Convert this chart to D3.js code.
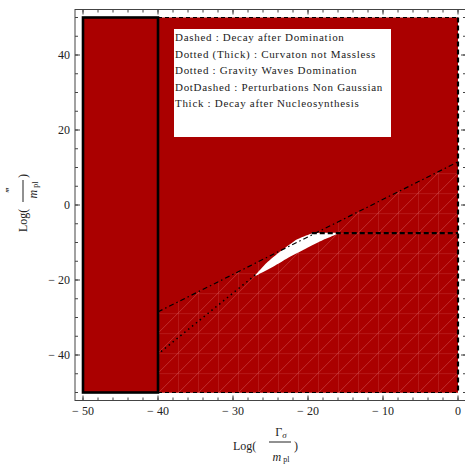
<!DOCTYPE html>
<html>
<head>
<script src="https://cdn.jsdelivr.net/npm/d3@7"></script>
<style>
  body { margin: 0; background: #fff; }
  text { font-family: "Liberation Serif", "DejaVu Serif", serif; fill: #222; }
</style>
</head>
<body>
<svg></svg>
<script>
var w = 465, h = 466;

// data
var xDomain = [-50, 0];
var yDomain = [-50, 50];
var xMajor = [-50, -40, -30, -20, -10, 0];
var xMinor = d3.range(-50, 0.1, 2);
var yMajor = [-40, -20, 0, 20, 40];
var yMinor = d3.range(-50, 50.1, 5);

var nucleoX = [-50, -40];          // Thick : decay after nucleosynthesis
var dominationX = [-40, 0];        // dashed box
var nonGaussLine = [[-40, -28.5], [0, 11.5]];
var gravityLine = [[-39.6, -39.1], [-27.0, -18.6]];
var curvatonLine = [[-19.5, -7.5], [0, -7.5]];
var allowedRegion = [
  [-27.1, -18.9], [-25.5, -15.4], [-23.7, -12.4], [-21.5, -9.2], [-19.7, -7.7],
  [-19.3, -7.5], [-16.0, -7.5], [-18.0, -9.3], [-20.2, -11.5], [-22.4, -13.8],
  [-24.6, -16.4], [-26.6, -18.5]
];
var legendLines = [
  "Dashed : Decay after Domination",
  "Dotted (Thick) : Curvaton not Massless",
  "Dotted : Gravity Waves Domination",
  "DotDashed : Perturbations Non Gaussian",
  "Thick : Decay after Nucleosynthesis"
];

var red = "#aa0000";

var svg = d3.select("svg").attr("width", w).attr("height", h);

var x = d3.scaleLinear().domain(xDomain).range([83, 458]);
var y = d3.scaleLinear().domain(yDomain).range([392.5, 17.5]);
var fx0 = 75, fx1 = 466, fy0 = 9.5, fy1 = 400.5;

var line = d3.line().x(function(d) { return x(d[0]); }).y(function(d) { return y(d[1]); });

// mesh pattern (rendering artefact of the region plot)
var defs = svg.append("defs");
var pat = defs.append("pattern")
    .attr("id", "mesh")
    .attr("patternUnits", "userSpaceOnUse")
    .attr("width", 20).attr("height", 20)
    .attr("x", x(0)).attr("y", y(-7.5));
pat.append("rect").attr("width", 20).attr("height", 20).attr("fill", red);
pat.append("path")
    .attr("d", "M0,0V20M0,0H20M0,20L20,0")
    .attr("stroke", "#e07070").attr("stroke-opacity", 0.5).attr("stroke-width", 0.8);

// red regions
svg.append("rect")
    .attr("x", x(dominationX[0])).attr("y", y(yDomain[1]))
    .attr("width", x(dominationX[1]) - x(dominationX[0]))
    .attr("height", y(yDomain[0]) - y(yDomain[1]))
    .attr("fill", red);

svg.append("path")
    .attr("d", line([nonGaussLine[0], nonGaussLine[1], [0, yDomain[0]], [-40, yDomain[0]]]))
    .attr("fill", "url(#mesh)");

svg.append("rect")
    .attr("x", x(nucleoX[0])).attr("y", y(yDomain[1]))
    .attr("width", x(nucleoX[1]) - x(nucleoX[0]))
    .attr("height", y(yDomain[0]) - y(yDomain[1]))
    .attr("fill", red);

// allowed (white) window
svg.append("path")
    .attr("d", d3.line().curve(d3.curveCardinalClosed.tension(0.5))
        .x(function(d) { return x(d[0]); }).y(function(d) { return y(d[1]); })(allowedRegion))
    .attr("fill", "#fff");

// boundaries
svg.append("path")
    .attr("d", line([[dominationX[0], yDomain[1]], [dominationX[1], yDomain[1]]]))
    .attr("stroke", "#000").attr("stroke-width", 1.2).attr("stroke-dasharray", "4,3").attr("fill", "none");
svg.append("path")
    .attr("d", line([[dominationX[0], yDomain[0]], [dominationX[1], yDomain[0]]]))
    .attr("stroke", "#000").attr("stroke-width", 1.2).attr("stroke-dasharray", "4,3").attr("fill", "none");
svg.append("path")
    .attr("d", line([[0, yDomain[1]], [0, yDomain[0]]]))
    .attr("stroke", "#000").attr("stroke-width", 2.2).attr("stroke-dasharray", "5,3").attr("fill", "none");

svg.append("path")
    .attr("d", line(nonGaussLine))
    .attr("stroke", "#000").attr("stroke-width", 1.2).attr("stroke-dasharray", "5,3,1.5,3").attr("fill", "none");
svg.append("path")
    .attr("d", line(gravityLine))
    .attr("stroke", "#000").attr("stroke-width", 1.5).attr("stroke-dasharray", "1.5,3.5").attr("fill", "none");
svg.append("path")
    .attr("d", line(curvatonLine))
    .attr("stroke", "#000").attr("stroke-width", 2.4).attr("stroke-dasharray", "5,3").attr("fill", "none");

svg.append("rect")
    .attr("x", x(nucleoX[0])).attr("y", y(yDomain[1]))
    .attr("width", x(nucleoX[1]) - x(nucleoX[0]))
    .attr("height", y(yDomain[0]) - y(yDomain[1]))
    .attr("fill", "none").attr("stroke", "#000").attr("stroke-width", 2.6);

// frame
svg.append("rect")
    .attr("x", fx0).attr("y", fy0).attr("width", fx1 - fx0).attr("height", fy1 - fy0)
    .attr("fill", "none").attr("stroke", "#444").attr("stroke-width", 1);

function ticksX(vals, len) {
  vals.forEach(function(v) {
    svg.append("line").attr("x1", x(v)).attr("x2", x(v)).attr("y1", fy1).attr("y2", fy1 - len)
        .attr("stroke", "#444");
    svg.append("line").attr("x1", x(v)).attr("x2", x(v)).attr("y1", fy0).attr("y2", fy0 + len)
        .attr("stroke", "#444");
  });
}
function ticksY(vals, len) {
  vals.forEach(function(v) {
    svg.append("line").attr("y1", y(v)).attr("y2", y(v)).attr("x1", fx0).attr("x2", fx0 + len)
        .attr("stroke", "#444");
    svg.append("line").attr("y1", y(v)).attr("y2", y(v)).attr("x1", fx1).attr("x2", fx1 - len)
        .attr("stroke", "#444");
  });
}
ticksX(xMinor, 3); ticksX(xMajor, 5);
ticksY(yMinor, 3); ticksY(yMajor, 5);

function fmt(v) { return v < 0 ? "\u2212 " + Math.abs(v) : String(v); }

svg.append("g").selectAll("text").data(xMajor).enter().append("text")
    .attr("x", function(d) { return x(d); }).attr("y", 415)
    .attr("text-anchor", "middle").attr("font-size", 12)
    .text(fmt);
svg.append("g").selectAll("text").data(yMajor).enter().append("text")
    .attr("x", 70).attr("y", function(d) { return y(d) + 4; })
    .attr("text-anchor", "end").attr("font-size", 12)
    .text(fmt);

// x label: Log( Γσ / m_pl )
var xl = svg.append("g").attr("transform", "translate(233,0)");
xl.append("text").attr("x", 0).attr("y", 450).attr("font-size", 12).text("Log(");
xl.append("text").attr("x", 48).attr("y", 436).attr("font-size", 12).attr("text-anchor", "middle")
    .html('\u0393<tspan font-style="italic" font-size="9" dy="2">\u03c3</tspan>');
xl.append("line").attr("x1", 36).attr("x2", 58).attr("y1", 442).attr("y2", 442).attr("stroke", "#222");
xl.append("text").attr("x", 48).attr("y", 461).attr("font-size", 12).attr("text-anchor", "middle")
    .html('<tspan font-style="italic">m</tspan><tspan font-size="8" dx="2" dy="1">pl</tspan>');
xl.append("text").attr("x", 61).attr("y", 450).attr("font-size", 12).text(")");

// y label: Log( ‴ / m_pl )
var yl = svg.append("g").attr("transform", "translate(0,232) rotate(-90)");
yl.append("text").attr("x", 0).attr("y", 27).attr("font-size", 12).text("Log(");
yl.append("text").attr("x", 42).attr("y", 14).attr("font-size", 12).attr("text-anchor", "middle").text("\u2034");
yl.append("line").attr("x1", 30).attr("x2", 52).attr("y1", 23).attr("y2", 23).attr("stroke", "#222");
yl.append("text").attr("x", 42).attr("y", 37).attr("font-size", 12).attr("text-anchor", "middle")
    .html('<tspan font-style="italic">m</tspan><tspan font-size="8" dx="2" dy="1">pl</tspan>');
yl.append("text").attr("x", 54).attr("y", 27).attr("font-size", 12).text(")");

// legend box
svg.append("rect").attr("x", 174).attr("y", 29).attr("width", 217).attr("height", 108).attr("fill", "#fff");
svg.append("g").selectAll("text").data(legendLines).enter().append("text")
    .attr("x", 175).attr("y", function(d, i) { return 41 + i * 16.6; })
    .attr("font-size", 11).attr("letter-spacing", 0.7)
    .text(function(d) { return d; });
</script>
</body>
</html>
